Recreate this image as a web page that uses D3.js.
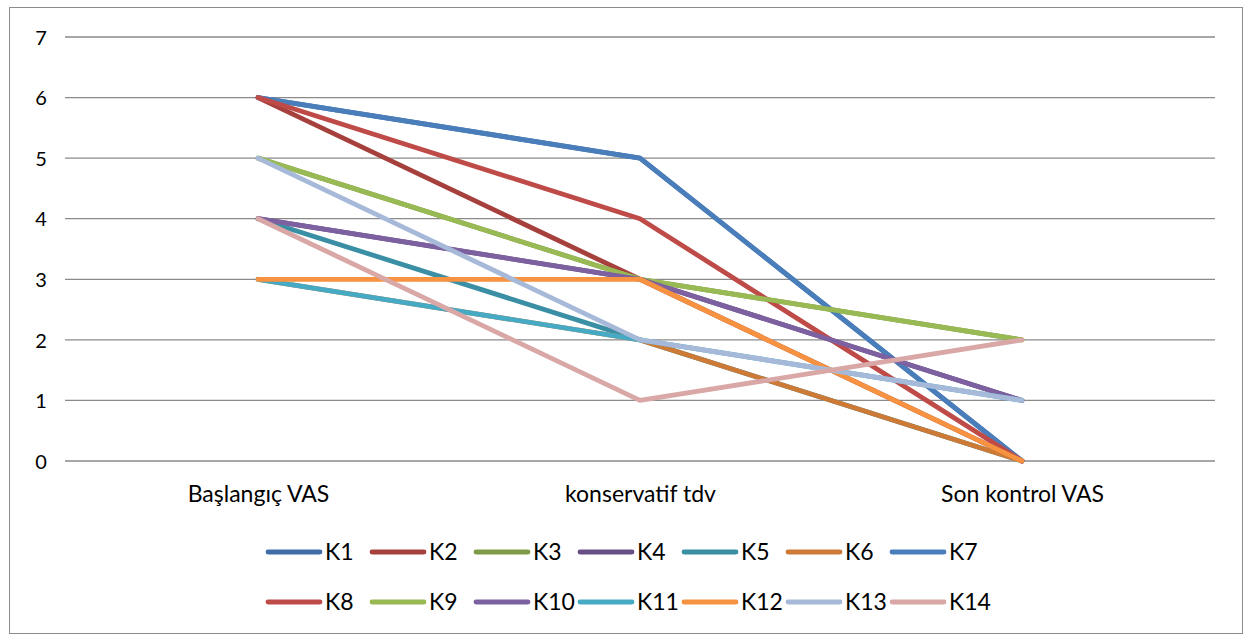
<!DOCTYPE html>
<html><head><meta charset="utf-8">
<script src="https://cdn.jsdelivr.net/npm/d3@7"></script>
<style>body{margin:0;background:#fff;} svg{display:block;font-family:Lato,"Open Sans",sans-serif;}</style>
</head><body>
<svg id="c" width="1252" height="634"></svg>
<script>
const categories = ["Başlangıç VAS", "konservatif tdv", "Son kontrol VAS"];
const seriesNames = ["K1","K2","K3","K4","K5","K6","K7","K8","K9","K10","K11","K12","K13","K14"];
const K1 = [6,5,0], K2 = [6,3,0], K3 = [5,3,2], K4 = [4,3,1], K5 = [4,2,0], K6 = [3,2,0], K7 = [6,5,0];
const K8 = [6,4,0], K9 = [5,3,2], K10 = [4,3,1], K11 = [3,2,1], K12 = [3,3,0], K13 = [5,2,1], K14 = [4,1,2];
const seriesValues = [K1,K2,K3,K4,K5,K6,K7,K8,K9,K10,K11,K12,K13,K14];
const yTicks = [0,1,2,3,4,5,6,7];
const colors = ["#3F6DA8","#A6403D","#809B48","#674F86","#3A8FA5","#CD7A36","#4A7EBB","#BE4B48","#98B954","#7D60A0","#46AAC5","#F69240","#A7B9D8","#D8A7A6"];

const svg = d3.select("#c");
svg.append("rect").attr("x",9.5).attr("y",7.5).attr("width",1233).attr("height",626).attr("fill","#fff").attr("stroke","#8c8c8c").attr("stroke-width",1);

const x = d3.scalePoint().domain(categories).range([258,1022]);
const y = d3.scaleLinear().domain([0,7]).range([461,37]);

const g = svg.append("g");
g.selectAll("line.grid").data(yTicks).join("line")
  .attr("x1",65).attr("x2",1215).attr("y1",d=>y(d)).attr("y2",d=>y(d))
  .attr("stroke","#8a8a8a").attr("stroke-width",1.3);

const yAxis = d3.axisLeft(y).tickValues(yTicks).tickFormat(d3.format("d")).tickSize(0).tickPadding(0);
const ya = svg.append("g").attr("transform","translate(41,0)").call(yAxis);
ya.select(".domain").remove();
ya.selectAll("text").attr("font-size",20).attr("fill","#000").attr("text-anchor","middle").attr("dy","0.36em").attr("font-family","Lato,sans-serif");

const xAxis = d3.axisBottom(x).tickSize(0).tickPadding(0);
const xa = svg.append("g").attr("transform","translate(0,494)").call(xAxis);
xa.select(".domain").remove();
xa.selectAll("text").attr("font-size",23).attr("fill","#000").attr("dy","0.36em").attr("font-family","Lato,sans-serif");

const line = d3.line().x((d,i)=>x(categories[i])).y(d=>y(d));
svg.append("g").selectAll("path").data(seriesValues).join("path")
  .attr("d",line).attr("fill","none").attr("stroke",(d,i)=>colors[i])
  .attr("stroke-width",4.8).attr("stroke-linecap","round").attr("stroke-linejoin","round");

const leg = svg.append("g");
seriesNames.forEach((n,i)=>{
  const row = Math.floor(i/7), col = i%7;
  const lx = 266 + col*104, ly = 552 + row*50;
  leg.append("line").attr("x1",lx+2).attr("x2",lx+54).attr("y1",ly).attr("y2",ly)
    .attr("stroke",colors[i]).attr("stroke-width",4.8).attr("stroke-linecap","round");
  leg.append("text").attr("x",lx+59).attr("y",ly).attr("dy","0.36em")
    .attr("font-size",23).attr("fill","#000").text(n);
});
</script>
</body></html>
